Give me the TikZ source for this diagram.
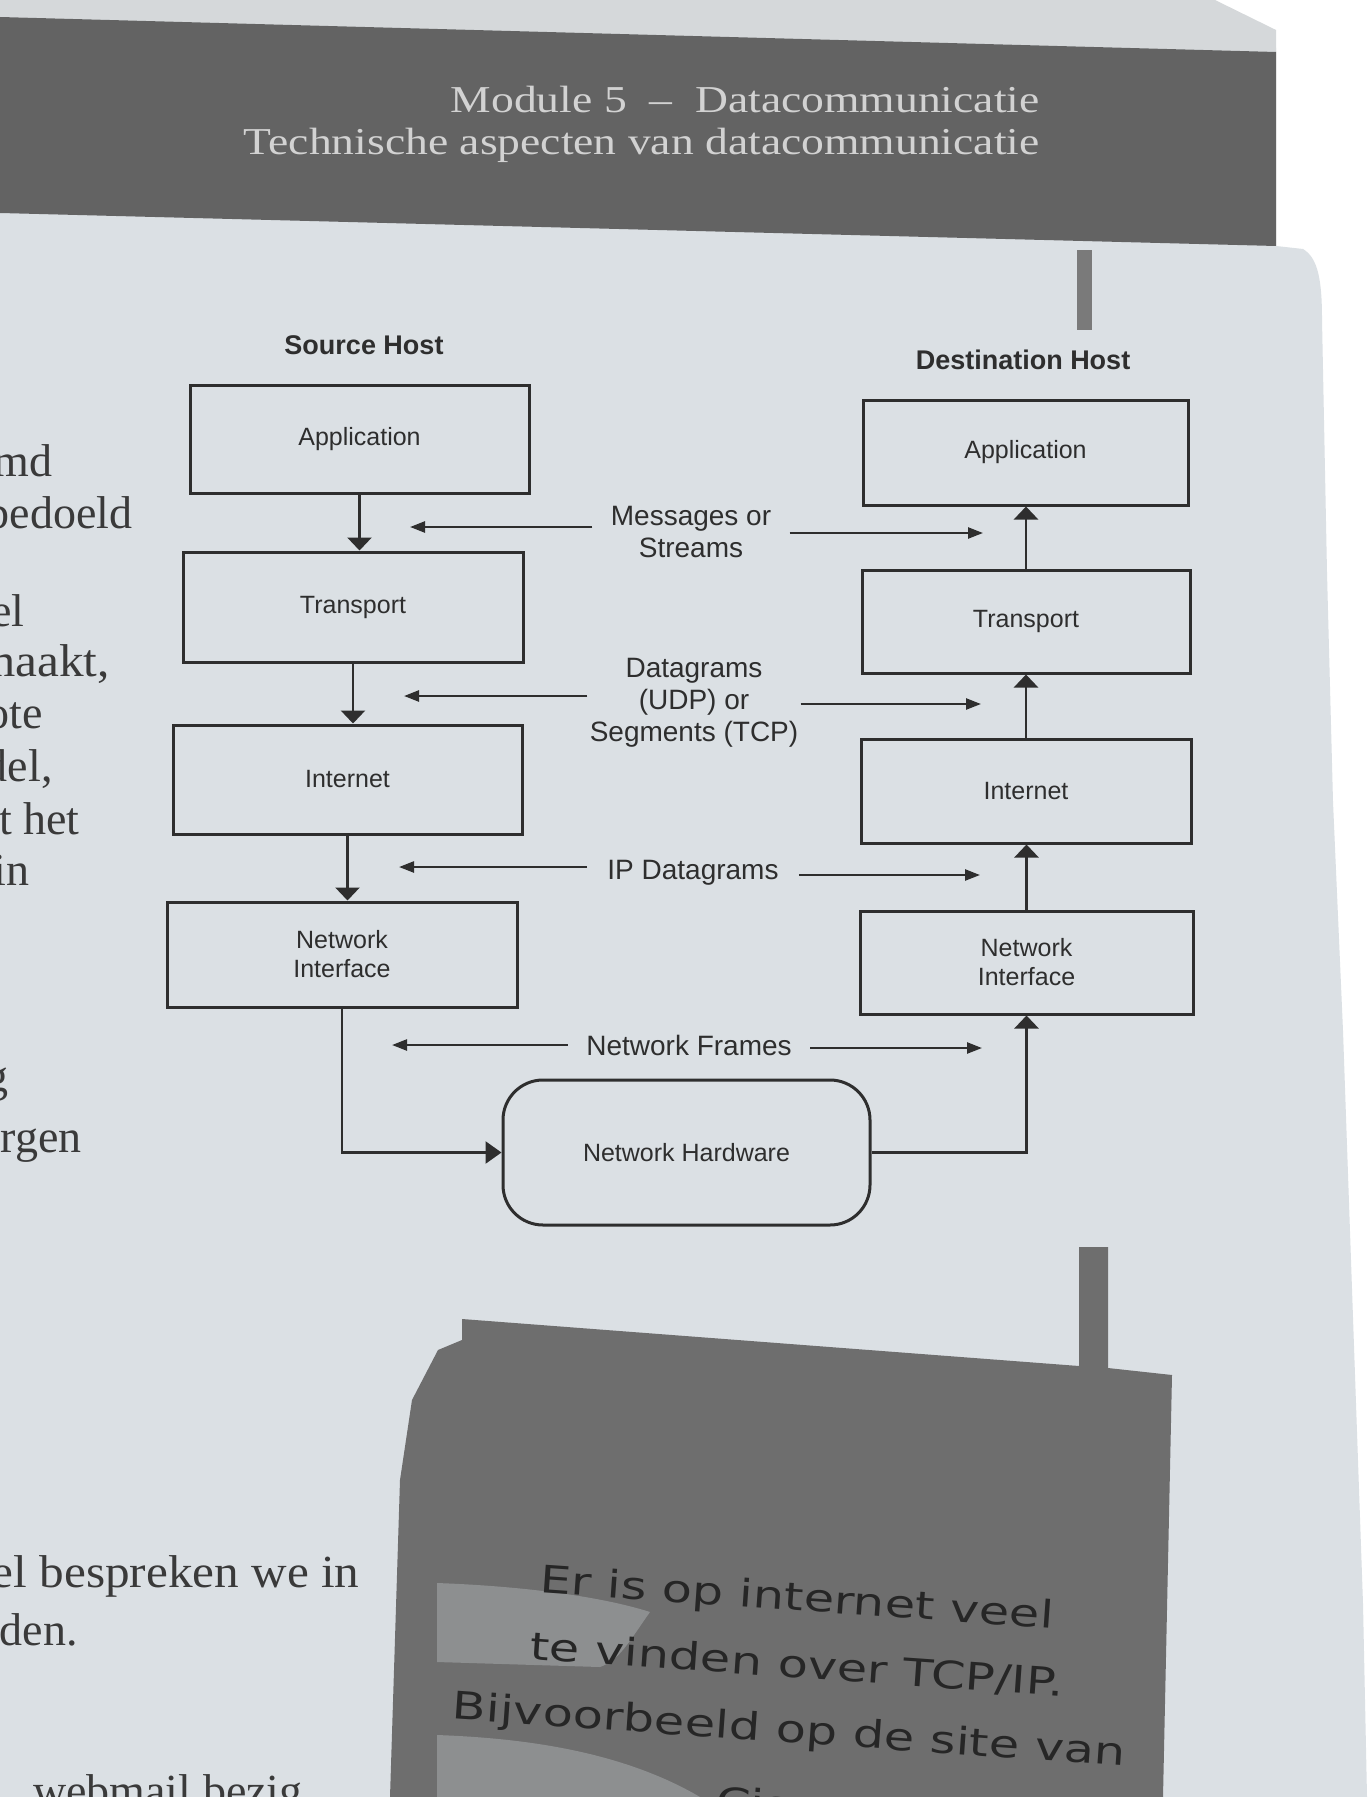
\documentclass[tikz,border=0pt]{standalone}
\usepackage{fontspec}
\setmainfont{Liberation Sans}
\newfontfamily\serifpage{Liberation Serif}
\newfontfamily\serifwide[FakeStretch=1.07]{Liberation Serif}
\newfontfamily\hdrfont[FakeStretch=1.2]{Liberation Serif}
\newfontfamily\handfont[FakeStretch=1.3]{DejaVu Sans}
\usetikzlibrary{arrows.meta}
\definecolor{paper}{HTML}{DBE0E4}
\definecolor{topstrip}{HTML}{D5D8DA}
\definecolor{band}{HTML}{636363}
\definecolor{bandtxt}{HTML}{D2D2D2}
\definecolor{ink}{HTML}{2E2E2E}
\definecolor{pagetxt}{HTML}{3A3A3A}
\definecolor{callout}{HTML}{6E6E6E}
\definecolor{patch}{HTML}{B4B8BB}
\definecolor{markgray}{HTML}{7A7A7A}
\begin{document}
\begin{tikzpicture}[x=0.5pt,y=-0.5pt,
  layerbox/.style={draw=ink, line width=1.5pt, inner sep=0pt, align=center,
    font=\fontsize{12.5}{14.5}\selectfont, text=ink},
  hostlbl/.style={font=\bfseries\fontsize{13.5}{16}\selectfont, text=ink, inner sep=0pt},
  flowlbl/.style={font=\fontsize{14}{16}\selectfont, align=center, text=ink,
    inner ysep=0pt, inner xsep=9pt},
  varr/.style={draw=ink, line width=1.3pt, -{Triangle[length=6.5pt,width=12pt]}},
  harr/.style={draw=ink, line width=1.2pt, -{Triangle[length=7.5pt,width=5.5pt]}},
  hwarr/.style={draw=ink, line width=1.3pt, -{Triangle[length=8pt,width=11pt]}},
  pagetext/.style={font=\serifpage\fontsize{23}{27}\selectfont, text=pagetxt,
    anchor=base east, inner sep=0pt},
  pagewide/.style={pagetext, font=\serifwide\fontsize{23}{27}\selectfont},
  hdr/.style={font=\hdrfont\fontsize{19}{22}\selectfont, text=bandtxt, anchor=east, inner sep=0pt},
  hand/.style={font=\handfont\fontsize{19}{22}\selectfont, text=black!85, rotate=-4, inner sep=0pt}
]
\useasboundingbox (0,0) rectangle (1370,1797);
% background: outside of page
\fill[white] (0,0) rectangle (1370,1797);
% page
\fill[paper] (0,17) -- (1276,48) -- (1276,246) -- (1303,249)
  .. controls (1318,258) and (1322,280) .. (1322,320)
  -- (1327,573) -- (1333,802) -- (1343,1031) -- (1353,1318)
  -- (1363,1604) -- (1367,1797) -- (0,1797) -- cycle;
% strip above the band
\fill[topstrip] (0,0) -- (1215,0) -- (1276,30) -- (1276,52) -- (0,17) -- cycle;
% header band
\fill[band] (0,17) -- (1276,52) -- (1276,246) -- (0,213) -- cycle;
\node[hdr] (h1) at (1040,100) {Module 5 \ –\ \ Datacommunicatie};
\node[hdr] (h2) at (1040,145) {Technische aspecten van datacommunicatie};
% small mark below band
\fill[markgray] (1077,250) rectangle (1092,330);

% page text fragments on the left
\node[pagetext] (t1) at (53,476) {md};
\node[pagetext] (t2) at (133,528) {bedoeld};
\node[pagetext] (t3) at (25,626) {el};
\node[pagewide] (t4) at (110,676) {maakt,};
\node[pagetext] (t5) at (43,728) {ote};
\node[pagetext] (t6) at (53,781) {del,};
\node[pagetext] (t7) at (80,834) {t het};
\node[pagetext] (t8) at (30,885) {in};
\node[pagetext] (t9) at (9,1091) {g};
\node[pagetext] (t10) at (82,1152) {rgen};
\node[pagewide] (t11) at (360,1587) {el bespreken we in};
\node[pagetext] (t12) at (78,1645) {den.};
\node[pagetext] (t13) at (303,1806) {webmail bezig};

% host labels
\node[hostlbl] (src) at (364,345) {Source Host};
\node[hostlbl] (dst) at (1023,360) {Destination Host};

% source stack
\node[layerbox, minimum width=169.5pt, minimum height=54pt] (appL) at (359.5,439) {Application};
\node[layerbox, minimum width=170pt, minimum height=55pt] (trL) at (353,607) {Transport};
\node[layerbox, minimum width=174.5pt, minimum height=54.5pt] (inL) at (347.5,779.5) {Internet};
\node[layerbox, minimum width=175pt, minimum height=52.5pt] (niL) at (342,954.5) {Network\\Interface};

% destination stack
\node[layerbox, minimum width=162.5pt, minimum height=52.5pt] (appR) at (1025.5,452.5) {Application};
\node[layerbox, minimum width=164pt, minimum height=51.5pt] (trR) at (1026,621.5) {Transport};
\node[layerbox, minimum width=165pt, minimum height=52pt] (inR) at (1026,791) {Internet};
\node[layerbox, minimum width=166.5pt, minimum height=51.5pt] (niR) at (1026.5,962.5) {Network\\Interface};

% network hardware
\node[layerbox, rounded corners=20pt, minimum width=183.5pt, minimum height=72.5pt] (nh) at (686.5,1152.5) {Network Hardware};

% vertical flow
\draw[varr] (appL.south) -- (appL.south |- trL.north);
\draw[varr] (trL.south) -- (trL.south |- inL.north);
\draw[varr] (inL.south) -- (inL.south |- niL.north);
\draw[hwarr] (niL.south) |- (nh.west);
\draw[varr] (nh.east) -| (niR.south);
\draw[varr] (niR.north) -- (niR.north |- inR.south);
\draw[varr] (inR.north) -- (inR.north |- trR.south);
\draw[varr] (trR.north) -- (trR.north |- appR.south);

% flow labels
\node[flowlbl] (msg) at (691,532) {Messages or\\Streams};
\node[flowlbl, inner xsep=1pt] (dg) at (694,703) {Datagrams\\(UDP) or\\Segments (TCP)};
\node[flowlbl, inner xsep=10pt] (ipd) at (693,873) {IP Datagrams};
\node[flowlbl] (nf) at (689,1045) {Network Frames};

\coordinate (msgL) at (410,527);
\coordinate (msgR) at (983,533);
\coordinate (dgL) at (404,696);
\coordinate (dgR) at (981,704);
\coordinate (ipL) at (399,867);
\coordinate (ipR) at (980,875);
\coordinate (nfL) at (392,1045);
\coordinate (nfR) at (982,1048);

\draw[harr] (msg.west |- msgL) -- (msgL);
\draw[harr] (msg.east |- msgR) -- (msgR);
\draw[harr] (dg.west |- dgL) -- (dgL);
\draw[harr] (dg.east |- dgR) -- (dgR);
\draw[harr] (ipd.west |- ipL) -- (ipL);
\draw[harr] (ipd.east |- ipR) -- (ipR);
\draw[harr] (nf.west |- nfL) -- (nfL);
\draw[harr] (nf.east |- nfR) -- (nfR);

% callout box at the bottom
\fill[callout] (462,1319) -- (1079,1366) -- (1079,1247) -- (1108,1247) -- (1108,1368)
  -- (1172,1375) -- (1163,1797) -- (390,1797) -- (400,1480) -- (412,1400)
  -- (438,1350) -- (462,1340) -- cycle;
\fill[patch, opacity=0.45] (437,1583) .. controls (520,1586) and (600,1596) .. (650,1612)
  .. controls (630,1640) and (620,1660) .. (600,1667) -- (437,1662) -- cycle;
\fill[patch, opacity=0.45] (437,1735) .. controls (520,1738) and (620,1750) .. (700,1797)
  -- (437,1797) -- cycle;
\node[hand] (c1) at (797,1600) {Er is op internet veel};
\node[hand] (c2) at (797,1665) {te vinden over TCP/IP.};
\node[hand] (c3) at (789,1732) {Bijvoorbeeld op de site van};
\node[hand] (c4) at (782,1805) {Cisco};
\end{tikzpicture}
\end{document}
